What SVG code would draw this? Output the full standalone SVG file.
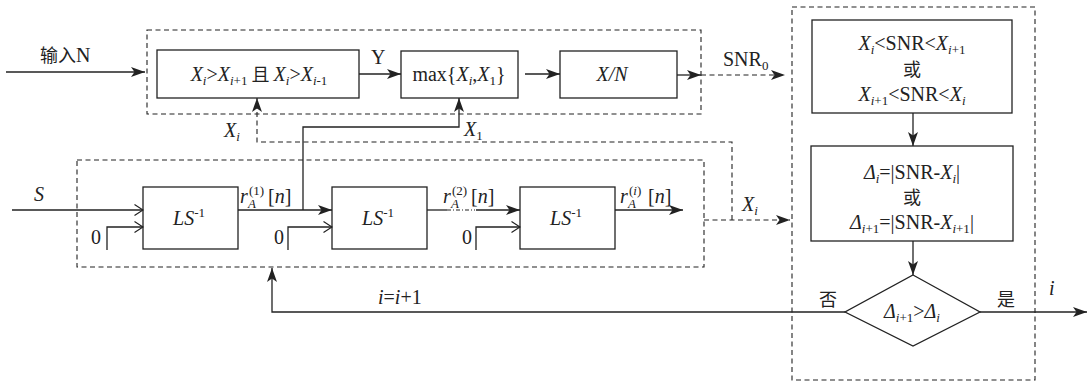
<svg xmlns="http://www.w3.org/2000/svg" width="1092" height="382" viewBox="0 0 1092 382">
<style>
text{font-family:"Liberation Serif","Noto Sans CJK SC",serif;font-size:20px;fill:#222}
.cjk{font-family:"Noto Sans CJK SC","Liberation Serif",sans-serif;font-size:18px}
.it{font-style:italic}
.box{fill:#fff;stroke:#222;stroke-width:1.3}
.dash{fill:none;stroke:#222;stroke-width:1.1;stroke-dasharray:5,3.5}
.ln{fill:none;stroke:#222;stroke-width:1.3}
.sub{font-size:13px}
</style>
<defs>
<marker id="a" markerUnits="userSpaceOnUse" markerWidth="14" markerHeight="10" viewBox="0 0 14 10" refX="14" refY="5" orient="auto">
<path d="M0,0 L14,5 L0,10 L3.5,5 Z" fill="#222"/>
</marker>
<marker id="o" markerUnits="userSpaceOnUse" markerWidth="10" markerHeight="12" viewBox="0 0 10 12" refX="9.5" refY="6" orient="auto">
<path d="M1,0.5 L9.5,6 L1,11.5" fill="none" stroke="#222" stroke-width="1.2"/>
</marker>
</defs>

<g id="groups">
<rect class="dash" x="147" y="30" width="554" height="84"/>
<rect class="dash" x="77" y="160" width="627" height="107"/>
<rect class="dash" x="792" y="7" width="243" height="373"/>
</g>

<g id="node-cond">
<rect class="box" x="157" y="50" width="202" height="48"/>
<text x="259" y="81" text-anchor="middle"><tspan class="it">X</tspan><tspan class="sub it" dy="4">i</tspan><tspan dy="-4">&gt;</tspan><tspan class="it">X</tspan><tspan class="sub" dy="4"><tspan class="it">i</tspan>+1</tspan><tspan dy="-4" class="cjk"> 且 </tspan><tspan class="it">X</tspan><tspan class="sub it" dy="4">i</tspan><tspan dy="-4">&gt;</tspan><tspan class="it">X</tspan><tspan class="sub" dy="4"><tspan class="it">i</tspan>-1</tspan></text>
</g>

<g id="node-max">
<rect class="box" x="401" y="51" width="117" height="47"/>
<text x="459" y="81" text-anchor="middle">max{<tspan class="it">X</tspan><tspan class="sub it" dy="4">i</tspan><tspan dy="-4">,</tspan><tspan class="it">X</tspan><tspan class="sub" dy="4">1</tspan><tspan dy="-4">}</tspan></text>
</g>

<g id="node-xn">
<rect class="box" x="560" y="51" width="117" height="47"/>
<text x="612" y="81" text-anchor="middle" class="it">X/N</text>
</g>

<g id="node-ls1">
<rect class="box" x="143" y="187" width="95" height="62"/>
<text x="189" y="225" text-anchor="middle"><tspan class="it">LS</tspan><tspan class="sub" dy="-8">-1</tspan></text>
</g>
<g id="node-ls2">
<rect class="box" x="332" y="187" width="95" height="62"/>
<text x="378" y="225" text-anchor="middle"><tspan class="it">LS</tspan><tspan class="sub" dy="-8">-1</tspan></text>
</g>
<g id="node-ls3">
<rect class="box" x="520" y="187" width="95" height="62"/>
<text x="566" y="225" text-anchor="middle"><tspan class="it">LS</tspan><tspan class="sub" dy="-8">-1</tspan></text>
</g>

<g id="node-range">
<rect class="box" x="812" y="20" width="200" height="93"/>
<text x="912" y="50" text-anchor="middle"><tspan class="it">X</tspan><tspan class="sub it" dy="4">i</tspan><tspan dy="-4">&lt;SNR&lt;</tspan><tspan class="it">X</tspan><tspan class="sub" dy="4"><tspan class="it">i</tspan>+1</tspan></text>
<text x="912" y="76" text-anchor="middle" class="cjk">或</text>
<text x="912" y="101" text-anchor="middle"><tspan class="it">X</tspan><tspan class="sub" dy="4"><tspan class="it">i</tspan>+1</tspan><tspan dy="-4">&lt;SNR&lt;</tspan><tspan class="it">X</tspan><tspan class="sub it" dy="4">i</tspan></text>
</g>

<g id="node-delta">
<rect class="box" x="811" y="146" width="202" height="95"/>
<text x="912" y="179" text-anchor="middle"><tspan class="it">Δ</tspan><tspan class="sub it" dy="4">i</tspan><tspan dy="-4">=|SNR-</tspan><tspan class="it">X</tspan><tspan class="sub it" dy="4">i</tspan><tspan dy="-4">|</tspan></text>
<text x="912" y="204" text-anchor="middle" class="cjk">或</text>
<text x="912" y="229" text-anchor="middle"><tspan class="it">Δ</tspan><tspan class="sub" dy="4"><tspan class="it">i</tspan>+1</tspan><tspan dy="-4">=|SNR-</tspan><tspan class="it">X</tspan><tspan class="sub" dy="4"><tspan class="it">i</tspan>+1</tspan><tspan dy="-4">|</tspan></text>
</g>

<g id="node-decision">
<polygon class="box" points="913,275 980,312 913,346 845,312"/>
<text x="912" y="318" text-anchor="middle"><tspan class="it">Δ</tspan><tspan class="sub" dy="4"><tspan class="it">i</tspan>+1</tspan><tspan dy="-4">&gt;</tspan><tspan class="it">Δ</tspan><tspan class="sub it" dy="4">i</tspan></text>
</g>

<g id="connectors">
<line class="ln" x1="6" y1="72" x2="145" y2="72" marker-end="url(#a)"/>
<line class="ln" x1="359" y1="74" x2="401" y2="74" marker-end="url(#a)"/>
<line class="ln" x1="525" y1="74" x2="560" y2="74" marker-end="url(#a)"/>
<line class="ln" x1="677" y1="75" x2="701" y2="75" marker-end="url(#a)"/>
<line class="dash" x1="701" y1="75" x2="785" y2="75" marker-end="url(#a)"/>
<line class="ln" x1="913" y1="113" x2="913" y2="146" marker-end="url(#a)"/>
<line class="ln" x1="913" y1="241" x2="913" y2="275" marker-end="url(#a)"/>
<polyline class="ln" points="845,312 272,312 272,268" marker-end="url(#a)"/>
<line class="ln" x1="980" y1="312" x2="1087" y2="312" marker-end="url(#a)"/>
<line class="ln" x1="12" y1="210" x2="143" y2="210" marker-end="url(#o)"/>
<polyline class="ln" points="107,250 107,227 143,227" marker-end="url(#o)"/>
<polyline class="ln" points="288,250 288,227 332,227" marker-end="url(#o)"/>
<polyline class="ln" points="476,250 476,227 520,227" marker-end="url(#o)"/>
<line class="ln" x1="238" y1="210" x2="332" y2="210" marker-end="url(#a)"/>
<polyline class="ln" points="303,210 303,127 459,127 459,98" marker-end="url(#a)"/>
<line class="ln" x1="427" y1="210" x2="447" y2="210"/>
<line x1="447" y1="210" x2="475" y2="210" stroke="#222" stroke-width="1.2" stroke-dasharray="4,2,1,2"/>
<line class="ln" x1="476" y1="210" x2="520" y2="210" marker-end="url(#a)"/>
<line class="ln" x1="615" y1="210" x2="683" y2="210" marker-end="url(#a)"/>
<line class="dash" x1="704" y1="220" x2="790" y2="220" marker-end="url(#a)"/>
<polyline class="dash" points="732,220 732,142 257,142 257,98" marker-end="url(#a)"/>
</g>

<g id="labels">
<text x="40" y="62"><tspan class="cjk" font-size="19">输入</tspan>N</text>
<text x="371" y="64">Y</text>
<text x="723" y="66">SNR<tspan class="sub" dy="4">0</tspan></text>
<text x="224" y="137" class="it">X<tspan class="sub" dy="4">i</tspan></text>
<text x="464" y="136" class="it">X<tspan class="sub" dy="4" font-style="normal">1</tspan></text>
<text x="742" y="211" class="it">X<tspan class="sub" dy="4">i</tspan></text>
<text x="34" y="201" class="it">S</text>
<text x="91" y="244">0</text>
<text x="274" y="244">0</text>
<text x="462" y="244">0</text>
<text x="240" y="203" class="it">r</text>
<text x="249" y="195" class="sub">(1)</text>
<text x="248" y="208" class="sub it" font-size="10">A</text>
<text x="268" y="203">[<tspan class="it">n</tspan>]</text>
<text x="443" y="203" class="it">r</text>
<text x="452" y="195" class="sub">(2)</text>
<text x="451" y="208" class="sub it" font-size="10">A</text>
<text x="471" y="203">[<tspan class="it">n</tspan>]</text>
<text x="620" y="203" class="it">r</text>
<text x="629" y="195" class="sub">(<tspan class="it">i</tspan>)</text>
<text x="628" y="208" class="sub it" font-size="10">A</text>
<text x="648" y="203">[<tspan class="it">n</tspan>]</text>
<text x="378" y="304"><tspan class="it">i</tspan>=<tspan class="it">i</tspan>+1</text>
<text x="819" y="306" class="cjk">否</text>
<text x="997" y="306" class="cjk">是</text>
<text x="1049" y="295" class="it">i</text>
</g>
</svg>
